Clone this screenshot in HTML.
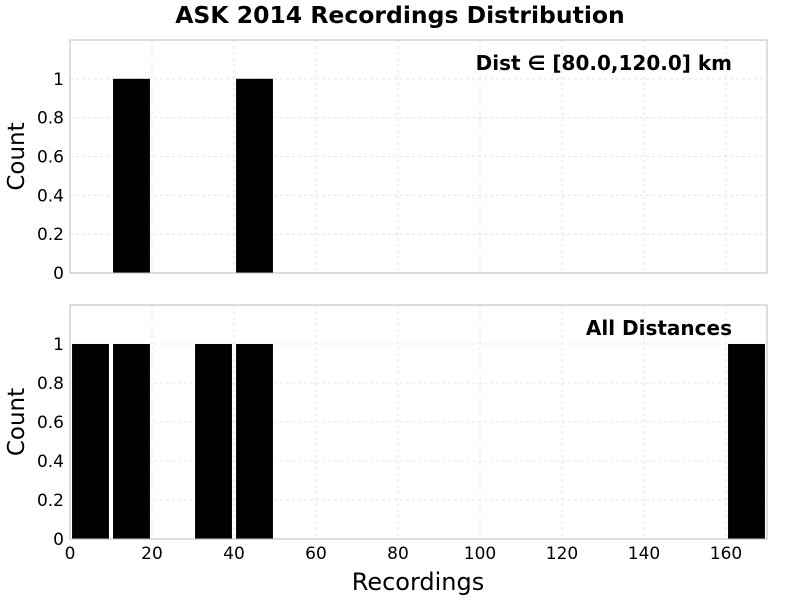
<!DOCTYPE html>
<html><head><meta charset="utf-8"><style>
body{margin:0;background:#fff;}
svg{display:block;font-family:"DejaVu Sans","Liberation Sans",sans-serif;}
</style></head><body>
<svg id="chart" width="800" height="600">
<text x="400" y="23" text-anchor="middle" font-size="23.5" font-weight="bold">ASK 2014 Recordings Distribution</text>
</svg>
<script>
const xTicks=[0,20,40,60,80,100,120,140,160];
const yTicks=[0,0.2,0.4,0.6,0.8,1];
const yTickLabels=["0","0.2","0.4","0.6","0.8","1"];
const binStartsTop=[10,40];
const countsTop=[1,1];
const binStartsAll=[0,10,30,40,160];
const countsAll=[1,1,1,1,1];
const binWidth=10;
const panels=[
 {name:"top",top:40,bottom:273,label:"Dist \u2208 [80.0,120.0] km",bins:binStartsTop,counts:countsTop,xlabels:false},
 {name:"bottom",top:305,bottom:539,label:"All Distances",bins:binStartsAll,counts:countsAll,xlabels:true}
];
const svg=document.getElementById('chart');
const NS="http://www.w3.org/2000/svg";
const L=70,R=767;
const xs=v=>L+(v/170)*(R-L);
function mk(t,a,p){const e=document.createElementNS(NS,t);for(const k in a)e.setAttribute(k,a[k]);(p||svg).appendChild(e);return e;}
panels.forEach(p=>{
 const ys=v=>p.bottom-(v/1.2)*(p.bottom-p.top);
 const g=mk('g',{});
 
 
 xTicks.forEach(t=>{mk('line',{x1:xs(t),x2:xs(t),y1:p.top,y2:p.bottom,stroke:'#e0e0e0','stroke-dasharray':'3,3','stroke-width':0.8},g);});
 yTicks.forEach((t,i)=>{
  mk('line',{x1:L,x2:R,y1:ys(t),y2:ys(t),stroke:'#e0e0e0','stroke-dasharray':'3,3','stroke-width':0.8},g);
  const tx=mk('text',{x:L-6,y:ys(t)+6,'text-anchor':'end','font-size':17},g);
  tx.textContent=yTickLabels[i];
  
  
 });
 p.bins.forEach((b,i)=>{
  const r=mk('rect',{x:xs(b+0.5),y:ys(p.counts[i]),width:xs(b+binWidth-0.5)-xs(b+0.5),height:ys(0)-ys(p.counts[i]),fill:'#000'},g);
  
  
 });
 mk('rect',{x:L,y:p.top,width:R-L,height:p.bottom-p.top,fill:'none',stroke:'#bbb','stroke-width':1},g);
 const lb=mk('text',{x:732,y:p.top+30,'text-anchor':'end','font-size':20,'font-weight':'bold'},g);
 lb.textContent=p.label;
 
 
 const cy=(p.top+p.bottom)/2;
 const yl=mk('text',{x:24,y:cy,'text-anchor':'middle','font-size':23,transform:`rotate(-90 24 ${cy})`},g);
 yl.textContent="Count";
 
 
 if(p.xlabels){
  xTicks.forEach(t=>{
   const tx=mk('text',{x:xs(t),y:p.bottom+20,'text-anchor':'middle','font-size':17},g);
   tx.textContent=String(t);
   
   
  });
 }
});
const xl=mk('text',{x:418,y:590,'text-anchor':'middle','font-size':24});
xl.textContent="Recordings";


</script>
</body></html>
